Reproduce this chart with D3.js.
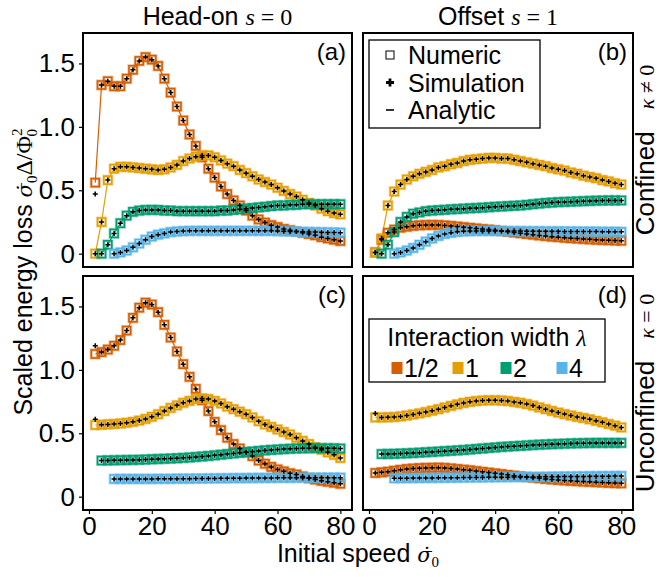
<!DOCTYPE html>
<html>
<head>
<meta charset="utf-8">
<script src="https://cdn.jsdelivr.net/npm/d3@7"></script>
<style>
  body { margin: 0; background: #fff; }
  text { font-family: "Liberation Sans", Arial, sans-serif; fill: #000; }
  .math { font-family: "Liberation Serif", "DejaVu Serif", serif; }
  .mathdv { font-family: "DejaVu Serif", serif; }
</style>
</head>
<body>
<svg width="660" height="577"></svg>
<script>
// initial speeds sampled in every panel
var speeds = [2,4,6,8,10,12,14,16,18,20,22,24,26,28,30,32,34,36,38,40,
              42,44,46,48,50,52,54,56,58,60,62,64,66,68,70,72,74,76,78,80];

var lambdaLabels = ["1/2", "1", "2", "4"];
var colors = ["#D55E00", "#E69F00", "#009E73", "#56B4E9"];

var yTicks = [0, 0.5, 1.0, 1.5];
var yTickLabels = ["0", "0.5", "1.0", "1.5"];
var xTicks = [0, 20, 40, 60, 80];

// (a) head-on, confined
var aHalf = [0.56,1.33,1.36,1.32,1.32,1.38,1.45,1.52,1.55,1.53,1.48,1.38,1.27,1.16,1.05,0.94,0.85,0.76,0.67,0.60,
             0.53,0.47,0.42,0.38,0.34,0.30,0.27,0.245,0.225,0.21,0.195,0.185,0.175,0.165,0.155,0.145,0.13,0.12,0.11,0.10];
var aOne  = [0,0.25,0.58,0.67,0.685,0.685,0.68,0.675,0.67,0.665,0.66,0.665,0.68,0.70,0.73,0.75,0.765,0.775,0.775,0.76,
             0.735,0.71,0.69,0.66,0.635,0.61,0.585,0.565,0.545,0.52,0.495,0.47,0.45,0.425,0.40,0.38,0.355,0.335,0.32,0.31];
var aTwo  = [null,0.0,0.07,0.16,0.24,0.30,0.33,0.34,0.345,0.345,0.345,0.34,0.34,0.335,0.335,0.335,0.335,0.335,0.335,0.335,
             0.34,0.34,0.345,0.35,0.355,0.36,0.365,0.37,0.375,0.38,0.38,0.385,0.385,0.39,0.39,0.39,0.39,0.39,0.39,0.39];
var aFour = [null,null,null,0.0,0.01,0.025,0.05,0.08,0.11,0.135,0.15,0.16,0.17,0.175,0.178,0.18,0.18,0.18,0.18,0.18,
             0.18,0.18,0.18,0.18,0.18,0.18,0.18,0.18,0.18,0.178,0.176,0.175,0.174,0.172,0.171,0.17,0.169,0.168,0.167,0.166];

// (b) offset, confined
var bHalf = [0.01,0.11,0.165,0.19,0.205,0.213,0.22,0.224,0.226,0.227,0.226,0.223,0.219,0.214,0.209,0.204,0.199,0.194,0.19,0.185,
             0.179,0.173,0.167,0.161,0.155,0.15,0.144,0.139,0.134,0.13,0.126,0.122,0.119,0.116,0.113,0.11,0.108,0.106,0.104,0.102];
var bOne  = [0.01,0.12,0.38,0.49,0.545,0.585,0.61,0.63,0.645,0.66,0.68,0.69,0.705,0.715,0.73,0.74,0.745,0.75,0.755,0.755,
             0.75,0.75,0.74,0.73,0.72,0.71,0.70,0.69,0.675,0.665,0.655,0.64,0.63,0.615,0.605,0.595,0.58,0.57,0.555,0.545];
var bTwo  = [null,0.0,0.07,0.17,0.25,0.29,0.315,0.325,0.335,0.34,0.343,0.346,0.35,0.352,0.355,0.358,0.36,0.363,0.366,0.37,
             0.372,0.375,0.378,0.38,0.385,0.39,0.395,0.40,0.403,0.406,0.408,0.41,0.412,0.414,0.416,0.418,0.419,0.42,0.42,0.42];
var bFour = [null,null,null,0.0,0.01,0.025,0.045,0.07,0.095,0.12,0.14,0.155,0.165,0.172,0.176,0.178,0.179,0.179,0.179,0.179,
             0.178,0.178,0.178,0.178,0.177,0.177,0.177,0.176,0.176,0.176,0.175,0.175,0.175,0.174,0.174,0.174,0.173,0.173,0.173,0.172];

// (c) head-on, unconfined
var cHalf = [1.125,1.14,1.16,1.19,1.235,1.31,1.41,1.49,1.53,1.515,1.455,1.355,1.255,1.145,1.045,0.945,0.85,0.76,0.675,0.59,
             0.525,0.465,0.415,0.38,0.35,0.32,0.285,0.26,0.235,0.215,0.2,0.185,0.175,0.16,0.145,0.135,0.125,0.118,0.11,0.102];
var cOne  = [0.565,0.567,0.57,0.573,0.577,0.583,0.59,0.60,0.613,0.63,0.65,0.675,0.70,0.72,0.74,0.755,0.77,0.775,0.77,0.755,
             0.735,0.71,0.69,0.67,0.65,0.625,0.595,0.57,0.55,0.53,0.51,0.49,0.465,0.44,0.415,0.39,0.37,0.35,0.33,0.305];
var cTwo  = [null,0.285,0.286,0.287,0.288,0.289,0.29,0.291,0.293,0.295,0.297,0.299,0.301,0.303,0.306,0.309,0.313,0.317,0.321,0.326,
             0.331,0.336,0.341,0.346,0.351,0.356,0.361,0.365,0.369,0.372,0.375,0.378,0.38,0.381,0.382,0.382,0.382,0.382,0.381,0.38];
var cFour = [null,null,null,0.14,0.14,0.14,0.14,0.14,0.14,0.14,0.141,0.141,0.141,0.142,0.142,0.142,0.143,0.143,0.144,0.144,
             0.145,0.145,0.146,0.146,0.147,0.147,0.148,0.148,0.148,0.149,0.149,0.149,0.15,0.15,0.15,0.15,0.15,0.15,0.15,0.15];

// (d) offset, unconfined
var dHalf = [0.187,0.192,0.197,0.205,0.212,0.218,0.222,0.225,0.227,0.228,0.229,0.227,0.223,0.218,0.213,0.208,0.202,0.196,0.19,0.184,
             0.178,0.172,0.166,0.16,0.155,0.15,0.145,0.14,0.136,0.132,0.128,0.125,0.122,0.119,0.117,0.114,0.112,0.109,0.107,0.105];
var dOne  = [0.625,0.625,0.626,0.628,0.633,0.64,0.648,0.657,0.667,0.678,0.69,0.703,0.716,0.728,0.739,0.748,0.754,0.758,0.76,0.76,
             0.758,0.754,0.747,0.74,0.73,0.718,0.704,0.69,0.676,0.663,0.651,0.64,0.629,0.62,0.61,0.598,0.586,0.573,0.56,0.546];
var dTwo  = [null,0.336,0.337,0.338,0.34,0.342,0.344,0.347,0.35,0.353,0.356,0.359,0.362,0.365,0.368,0.372,0.376,0.38,0.384,0.388,
             0.392,0.395,0.398,0.401,0.404,0.407,0.41,0.412,0.414,0.416,0.418,0.42,0.421,0.422,0.423,0.424,0.424,0.424,0.424,0.424];
var dFour = [null,null,null,0.145,0.146,0.146,0.147,0.147,0.148,0.148,0.149,0.149,0.15,0.15,0.151,0.151,0.152,0.152,0.153,0.153,
             0.154,0.154,0.155,0.155,0.156,0.156,0.157,0.157,0.158,0.158,0.159,0.159,0.16,0.16,0.161,0.161,0.162,0.162,0.163,0.163];

// simulation value at the first speed where it differs from numeric (null = same)
var simStartA = [0.47, null, null, null];
var simStartB = [null, null, null, null];
var simStartC = [1.19, 0.61, null, null];
var simStartD = [null, 0.655, null, null];

var svg = d3.select("svg");

var colX = [[83, 352], [363, 633]];
var rowY = [[33, 267], [276, 510]];

var panels = [
  {tag: "(a)", col: 0, row: 0, series: [aHalf, aOne, aTwo, aFour], sim: simStartA},
  {tag: "(b)", col: 1, row: 0, series: [bHalf, bOne, bTwo, bFour], sim: simStartB},
  {tag: "(c)", col: 0, row: 1, series: [cHalf, cOne, cTwo, cFour], sim: simStartC},
  {tag: "(d)", col: 1, row: 1, series: [dHalf, dOne, dTwo, dFour], sim: simStartD}
];

var plusPath = "M-2.5,0H2.5M0,-2.5V2.5";

panels.forEach(function(p) {
  var x = d3.scaleLinear().domain([-1.9, 83.7]).range(colX[p.col]);
  var y = d3.scaleLinear().domain([-0.105, 1.74]).range([rowY[p.row][1], rowY[p.row][0]]);
  var g = svg.append("g");

  var pts = p.series.map(function(vals, si) {
    var out = [];
    vals.forEach(function(v, i) {
      if (v == null) return;
      var s = v;
      if (out.length === 0 && p.sim[si] != null) s = p.sim[si];
      out.push({x: speeds[i], v: v, s: s, si: si});
    });
    return out;
  });

  // analytic lines
  var line = d3.line().x(function(d) { return x(d.x); }).y(function(d) { return y(d.v); });
  pts.forEach(function(arr, si) {
    g.append("path").datum(arr)
      .attr("d", line)
      .attr("fill", "none")
      .attr("stroke", colors[si])
      .attr("stroke-width", 1.2);
  });

  // numeric squares, with a soft halo like the original rendering
  pts.forEach(function(arr, si) {
    var sq = g.selectAll(null).data(arr).enter();
    sq.append("rect")
      .attr("x", function(d) { return x(d.x) - 4; })
      .attr("y", function(d) { return y(d.v) - 4; })
      .attr("width", 8)
      .attr("height", 8)
      .attr("fill", "none")
      .attr("stroke", colors[si])
      .attr("stroke-opacity", 0.35)
      .attr("stroke-width", 3.2);
    sq.append("rect")
      .attr("x", function(d) { return x(d.x) - 4; })
      .attr("y", function(d) { return y(d.v) - 4; })
      .attr("width", 8)
      .attr("height", 8)
      .attr("fill", "none")
      .attr("stroke", colors[si])
      .attr("stroke-width", 1.6);
  });

  // simulation pluses
  pts.forEach(function(arr) {
    g.selectAll(null).data(arr).enter().append("path")
      .attr("d", plusPath)
      .attr("transform", function(d) { return "translate(" + x(d.x) + "," + y(d.s) + ")"; })
      .attr("stroke", "#000")
      .attr("stroke-width", 1.5);
  });

  // frame
  svg.append("rect")
    .attr("x", colX[p.col][0]).attr("y", rowY[p.row][0])
    .attr("width", colX[p.col][1] - colX[p.col][0])
    .attr("height", rowY[p.row][1] - rowY[p.row][0])
    .attr("fill", "none").attr("stroke", "#000").attr("stroke-width", 2);

  svg.append("text")
    .attr("x", colX[p.col][1] - 6).attr("y", rowY[p.row][0] + 27)
    .attr("text-anchor", "end")
    .style("font-size", "24px")
    .text(p.tag);

  if (p.col === 0) {
    var ya = svg.append("g")
      .attr("transform", "translate(" + (colX[0][0] - 1) + ",0)")
      .call(d3.axisLeft(y).tickValues(yTicks)
        .tickFormat(function(d, i) { return yTickLabels[i]; })
        .tickSize(3).tickPadding(4));
    ya.select(".domain").remove();
    ya.selectAll("line").attr("stroke-width", 1.2);
    ya.selectAll("text").attr("font-family", null).style("font-size", "26px");
  }
  if (p.row === 1) {
    var xa = svg.append("g")
      .attr("transform", "translate(0," + (rowY[1][1] + 1) + ")")
      .call(d3.axisBottom(x).tickValues(xTicks).tickSize(3).tickPadding(3));
    xa.select(".domain").remove();
    xa.selectAll("line").attr("stroke-width", 1.2);
    xa.selectAll("text").attr("font-family", null).style("font-size", "26px");
  }
});

// italic sigma with a combining dot above and subscript 0
function sigmaDot(t, size) {
  t.append("tspan").attr("class", "mathdv").style("font-style", "italic").style("font-size", size + "px").text("σ\u0307");
  t.append("tspan").attr("class", "math").attr("dy", 5).style("font-size", "15px").text("0");
}

// column titles
function mathTitle(cx, label, v, val) {
  var t = svg.append("text").attr("x", cx).attr("y", 25)
    .attr("text-anchor", "middle").style("font-size", "25px");
  t.append("tspan").text(label + " ");
  t.append("tspan").attr("class", "math").style("font-style", "italic").style("font-size", "24px").text(v);
  t.append("tspan").attr("class", "math").style("font-size", "24px").text(" = " + val);
}
mathTitle((colX[0][0] + colX[0][1]) / 2, "Head-on", "s", "0");
mathTitle((colX[1][0] + colX[1][1]) / 2, "Offset", "s", "1");

// row strips on the right
function stripLabel(cy, label, rel) {
  var t = svg.append("text")
    .attr("transform", "translate(654," + cy + ") rotate(-90)")
    .attr("text-anchor", "middle").style("font-size", "26px");
  t.append("tspan").text(label);
  t.append("tspan").attr("class", "math").attr("dx", 22).style("font-style", "italic").style("font-size", "22px").text("κ");
  t.append("tspan").attr("class", "math").style("font-size", "22px").text(" " + rel + " 0");
}
stripLabel((rowY[0][0] + rowY[0][1]) / 2, "Confined", "≠");
stripLabel((rowY[1][0] + rowY[1][1]) / 2, "Unconfined", "=");

// y axis title
var yl = svg.append("text")
  .attr("transform", "translate(32,272) rotate(-90)")
  .attr("text-anchor", "middle").style("font-size", "25px");
yl.append("tspan").text("Scaled energy loss ");
sigmaDot(yl, 21);
yl.append("tspan").attr("class", "math").attr("dy", -5).style("font-size", "24px").text("Δ/Φ");
yl.append("tspan").attr("class", "math").attr("dy", -10).style("font-size", "15px").text("2");
yl.append("tspan").attr("class", "math").attr("dx", -8).attr("dy", 15).style("font-size", "15px").text("0");

// x axis title
var xl = svg.append("text")
  .attr("x", (colX[0][0] + colX[1][1]) / 2).attr("y", 562)
  .attr("text-anchor", "middle").style("font-size", "25px");
xl.append("tspan").text("Initial speed ");
sigmaDot(xl, 21);

// legend: marker types
var markerNames = ["Numeric", "Simulation", "Analytic"];
var lg1 = svg.append("g");
lg1.append("rect").attr("x", 369).attr("y", 40).attr("width", 171).attr("height", 88)
  .attr("fill", "#fff").attr("stroke", "#000").attr("stroke-width", 1.3);
markerNames.forEach(function(name, i) {
  var cy = 55 + i * 27.5;
  if (i === 0) {
    lg1.append("rect").attr("x", 386).attr("y", cy - 4).attr("width", 8).attr("height", 8)
      .attr("fill", "none").attr("stroke", "#000").attr("stroke-width", 1);
  } else if (i === 1) {
    lg1.append("path").attr("d", "M-4,0H4M0,-4V4").attr("transform", "translate(390," + cy + ")")
      .attr("stroke", "#000").attr("stroke-width", 2.8);
  } else {
    lg1.append("line").attr("x1", 386).attr("x2", 394).attr("y1", cy).attr("y2", cy)
      .attr("stroke", "#000").attr("stroke-width", 1.6);
  }
  lg1.append("text").attr("x", 408).attr("y", cy).attr("dy", "0.36em")
    .style("font-size", "25px").text(name);
});

// legend: interaction width
var lg2 = svg.append("g");
lg2.append("rect").attr("x", 369).attr("y", 319).attr("width", 236).attr("height", 63)
  .attr("fill", "#fff").attr("stroke", "#000").attr("stroke-width", 1.3);
var lt = lg2.append("text").attr("x", 487).attr("y", 337).attr("dy", "0.36em")
  .attr("text-anchor", "middle").style("font-size", "25px");
lt.append("tspan").text("Interaction width ");
lt.append("tspan").attr("class", "math").style("font-style", "italic").style("font-size", "24px").text("λ");
var keyX = [397, 458, 506, 562];
lambdaLabels.forEach(function(lab, i) {
  lg2.append("rect").attr("x", keyX[i] - 5.5).attr("y", 362).attr("width", 11).attr("height", 12)
    .attr("fill", colors[i]);
  lg2.append("text").attr("x", keyX[i] + 7).attr("y", 368).attr("dy", "0.36em")
    .style("font-size", "25px").text(lab);
});
</script>
</body>
</html>
